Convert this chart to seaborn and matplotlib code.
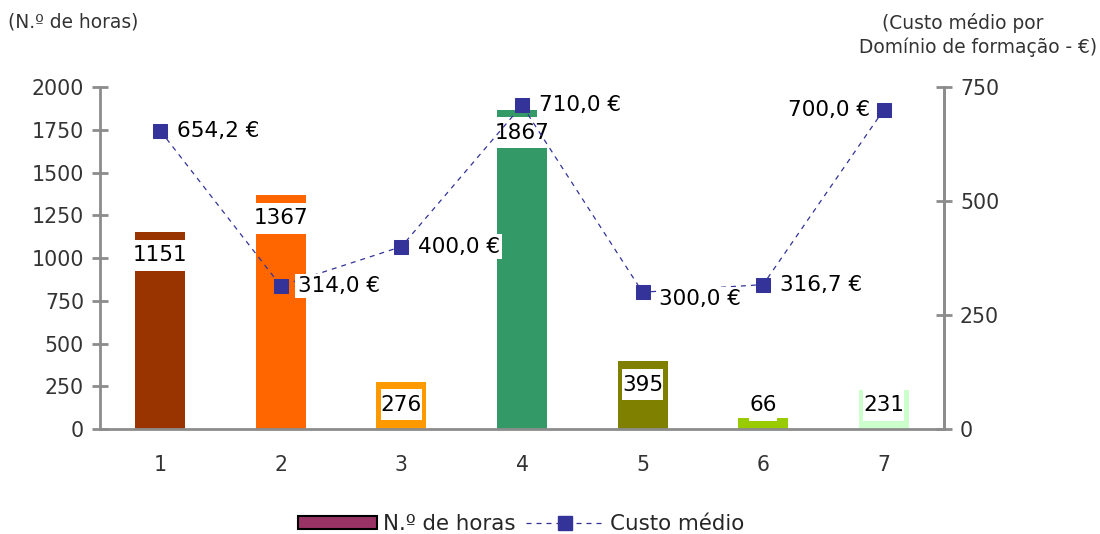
import numpy as np
import pandas as pd
import matplotlib
matplotlib.use("Agg")
import matplotlib.pyplot as plt
import seaborn as sns
from matplotlib.patches import Patch, Rectangle
from matplotlib.lines import Line2D
from matplotlib.transforms import IdentityTransform

# Training hours and average cost per training domain
categories = ["1", "2", "3", "4", "5", "6", "7"]
hours = [1151, 1367, 276, 1867, 395, 66, 231]
avg_cost = [654.2, 314.0, 400.0, 710.0, 300.0, 316.7, 700.0]
bar_colors = ["#993300", "#FF6600", "#FF9900", "#339966", "#808000", "#99CC00", "#CCFFCC"]
cost_labels = ["654,2 €", "314,0 €", "400,0 €", "710,0 €", "300,0 €", "316,7 €", "700,0 €"]

sns.set_theme(style="white")
plt.rcParams["font.family"] = ["DejaVu Sans"]

AXIS_GRAY = "#8c8c8c"
LINE_BLUE = "#333399"

fig = plt.figure(figsize=(11, 5.34), dpi=100)
ax = fig.add_axes([0.0909, 0.1966, 0.7673, 0.6404])

df = pd.DataFrame({"cat": categories, "hours": hours})
sns.barplot(data=df, x="cat", y="hours", hue="cat", palette=bar_colors,
            legend=False, width=0.415, saturation=1, linewidth=0, ax=ax)

ax.set_xlim(-0.5, 6.5)
ax.set_ylim(0, 2000)
ax.set_yticks(np.arange(0, 2001, 250))
ax.set_xlabel("")
ax.set_ylabel("")
ax.spines["top"].set_visible(False)
for s in ["left", "right", "bottom"]:
    ax.spines[s].set_color(AXIS_GRAY)
    ax.spines[s].set_linewidth(2)
ax.tick_params(axis="y", direction="inout", length=11, width=2, color=AXIS_GRAY,
               labelsize=14.8, labelcolor="#333333", pad=6)
ax.tick_params(axis="x", which="major", length=0, labelsize=14.8, labelcolor="#333333", pad=19)
ax.set_xticks(np.arange(0.5, 6.5, 1), minor=True)
ax.tick_params(axis="x", which="minor", direction="inout", length=12, width=2, color=AXIS_GRAY)

# Value labels for the bars
bar_texts = []
for i, v in enumerate(hours):
    y = max(v - 135, 140)
    t = ax.text(i, y, f"{v}", ha="center", va="center", fontsize=15.5, color="black", zorder=5)
    bar_texts.append(t)

ax2 = ax.twinx()
ax2.set_position(ax.get_position())
sns.lineplot(x=np.arange(len(categories)), y=avg_cost, ax=ax2, color=LINE_BLUE,
             linestyle=(0, (4, 4)), linewidth=0.9, marker="s", markersize=10,
             markeredgecolor=LINE_BLUE, markerfacecolor=LINE_BLUE)
ax2.set_ylim(0, 750)
ax2.set_xlim(-0.5, 6.5)
ax2.set_yticks([0, 250, 500, 750])
for s in ["top", "left", "bottom"]:
    ax2.spines[s].set_visible(False)
ax2.spines["right"].set_color(AXIS_GRAY)
ax2.spines["right"].set_linewidth(2)
ax2.tick_params(axis="y", direction="inout", length=11, width=2, color=AXIS_GRAY,
                labelsize=14.8, labelcolor="#333333", pad=6)
ax2.set_ylabel("")

# Cost labels next to the markers
offsets = [(12, 0, "left"), (12, 0, "left"), (12, 0, "left"),
           (12, 0, "left"), (12, -5, "left"), (12, 0, "left"),
           (-10, 0, "right")]
for i, (c, lab) in enumerate(zip(avg_cost, cost_labels)):
    dx, dy, ha = offsets[i]
    ax2.annotate(lab, (i, c), xytext=(dx, dy), textcoords="offset points",
                 ha=ha, va="center", fontsize=15.5, color="black",
                 bbox=dict(boxstyle="square,pad=0.1", fc="white", ec="none"), zorder=6)

fig.text(0.007, 0.958, "(N.º de horas)", fontsize=13.4, color="#333333", ha="left", va="center")
fig.text(0.997, 0.935, "(Custo médio por    \n Domínio de formação - €)", fontsize=13.4,
         color="#333333", ha="right", va="center", multialignment="center", linespacing=1.3)

handles = [Patch(facecolor="#993366", edgecolor="black", linewidth=1.5, label="N.º de horas"),
           Line2D([0], [0], color=LINE_BLUE, linestyle=(0, (4, 4)), linewidth=0.9, marker="s",
                  markersize=10, label="Custo médio")]
fig.legend(handles=handles, loc="center", bbox_to_anchor=(0.474, 0.019), ncol=2, frameon=False,
           fontsize=15.4, handlelength=3.7, handleheight=0.6, columnspacing=0.5, handletextpad=0.25)

# White boxes behind the bar labels: tight horizontally, taller vertically
fig.canvas.draw()
renderer = fig.canvas.get_renderer()
for t in bar_texts:
    bb = t.get_window_extent(renderer)
    cx, cy = (bb.x0 + bb.x1) / 2, (bb.y0 + bb.y1) / 2
    w = bb.width
    h = 31
    rect = Rectangle((cx - w / 2, cy - h / 2), w, h, transform=IdentityTransform(),
                     facecolor="white", edgecolor="none", zorder=4)
    ax.add_artist(rect)

fig.savefig("out.png", dpi=100)
